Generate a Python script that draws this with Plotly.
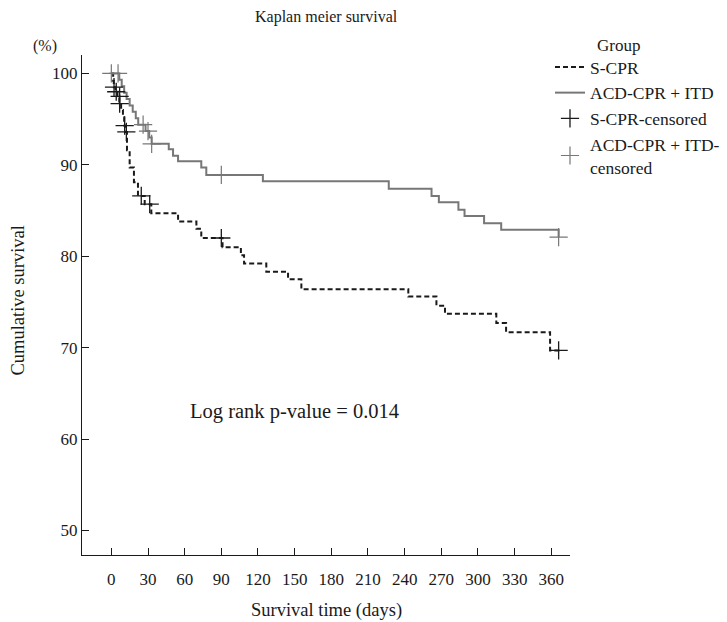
import plotly.graph_objects as go

# S-CPR (step curve)
scpr_t = [0, 1.5, 2, 3.5, 5, 6.5, 8, 9.5, 10.5, 12, 12.8, 15, 18.5, 21.8, 27.3, 32.7,
          54.6, 69.6, 73.6, 91, 106, 108.6, 126.8, 144.6, 155.5, 243, 266, 273, 315,
          323, 359, 367]
scpr_s = [100, 99.2, 98.5, 98.0, 97.5, 96.7, 96.0, 95.2, 94.3, 93.6, 91.6, 89.7, 88.1,
          86.6, 85.7, 84.7, 83.8, 83.0, 82.0, 81.0, 80.1, 79.2, 78.3, 77.5, 76.4, 75.6,
          74.6, 73.7, 72.7, 71.7, 69.7, 69.7]
scpr_cens_t = [2.2, 4, 6.8, 6.8, 10.9, 12.3, 24.5, 31.4, 90, 366]
scpr_cens_s = [98.5, 98.0, 97.5, 96.7, 94.3, 93.6, 86.6, 85.7, 82.0, 69.7]

# ACD-CPR + ITD (step curve)
acd_t = [0, 6.5, 8.5, 10.5, 12.5, 15, 17.5, 20, 22, 28, 31, 33, 47, 50.5, 54.6, 73.6,
         77.7, 124, 227, 262, 268, 284, 289, 305, 319, 366]
acd_s = [100, 99.3, 98.6, 97.9, 97.2, 96.5, 95.8, 95.1, 94.4, 93.7, 93.0, 92.3, 91.7,
         91.0, 90.4, 89.7, 88.9, 88.2, 87.4, 86.6, 85.9, 85.1, 84.4, 83.6, 82.9, 82.1]
acd_cens_t = [0, 5.5, 26, 30, 33, 90, 366]
acd_cens_s = [100, 100, 94.4, 93.7, 92.3, 88.9, 82.1]

x_ticks = [0, 30, 60, 90, 120, 150, 180, 210, 240, 270, 300, 330, 360]
y_ticks = [50, 60, 70, 80, 90, 100]

FONT = "Liberation Serif"
BLACK = "#1a1a1a"
GRAY = "#777777"

fig = go.Figure()
fig.add_trace(go.Scatter(x=scpr_t, y=scpr_s, mode="lines", line_shape="hv",
                         name="S-CPR",
                         line=dict(color=BLACK, width=2, dash="5px,3px")))
fig.add_trace(go.Scatter(x=acd_t, y=acd_s, mode="lines", line_shape="hv",
                         name="ACD-CPR + ITD",
                         line=dict(color=GRAY, width=2)))
fig.add_trace(go.Scatter(x=scpr_cens_t, y=scpr_cens_s, mode="markers",
                         name="S-CPR-censored",
                         marker=dict(symbol="cross-thin", size=13,
                                     line=dict(color=BLACK, width=1.3))))
fig.add_trace(go.Scatter(x=acd_cens_t, y=acd_cens_s, mode="markers",
                         name="ACD-CPR + ITD-<br>censored",
                         marker=dict(symbol="cross-thin", size=13,
                                     line=dict(color=GRAY, width=1.2))))

fig.update_layout(
    width=719, height=614,
    margin=dict(l=74, r=157, t=47, b=67, autoexpand=False),
    paper_bgcolor="white", plot_bgcolor="white",
    font=dict(family=FONT, size=16, color=BLACK),
    showlegend=True,
    legend=dict(x=0.959, y=1.012, xanchor="left", yanchor="top",
                font=dict(family=FONT, size=17.5, color=BLACK),
                bgcolor="rgba(0,0,0,0)", tracegroupgap=0, itemwidth=30),
    xaxis=dict(range=[-24, 375.3], tickvals=x_ticks, ticktext=[str(v) for v in x_ticks],
               showline=True, linecolor=BLACK, linewidth=1.2, ticks="inside",
               ticklen=7, tickcolor=BLACK, showgrid=False, zeroline=False,
               ticklabelstandoff=8, tickfont=dict(size=17)),
    yaxis=dict(range=[47.32, 102.02], tickvals=y_ticks, ticktext=[str(v) for v in y_ticks],
               showline=True, linecolor=BLACK, linewidth=1.2, ticks="inside",
               ticklen=7, tickcolor=BLACK, showgrid=False, zeroline=False,
               tickfont=dict(size=17)),
    annotations=[
        dict(text="Kaplan meier survival", x=0.5, y=1.076, xref="paper", yref="paper",
             showarrow=False, font=dict(size=16), xanchor="center", yanchor="middle"),
        dict(text="(%)", x=-0.075, y=1.018, xref="paper", yref="paper",
             showarrow=False, font=dict(size=16), xanchor="center", yanchor="middle"),
        dict(text="Cumulative survival", x=-0.132, y=0.51, xref="paper", yref="paper",
             showarrow=False, textangle=-90, font=dict(size=18.5),
             xanchor="center", yanchor="middle"),
        dict(text="Survival time (days)", x=0.5, y=-0.11, xref="paper", yref="paper",
             showarrow=False, font=dict(size=18.5), xanchor="center", yanchor="middle"),
        dict(text="Group", x=1.1, y=1.018, xref="paper", yref="paper",
             showarrow=False, font=dict(size=17), xanchor="center", yanchor="middle"),
        dict(text="Log rank p-value = 0.014", x=150, y=63, xref="x", yref="y",
             showarrow=False, font=dict(size=20.5), xanchor="center", yanchor="middle"),
    ],
)

fig.write_html("out.html")
